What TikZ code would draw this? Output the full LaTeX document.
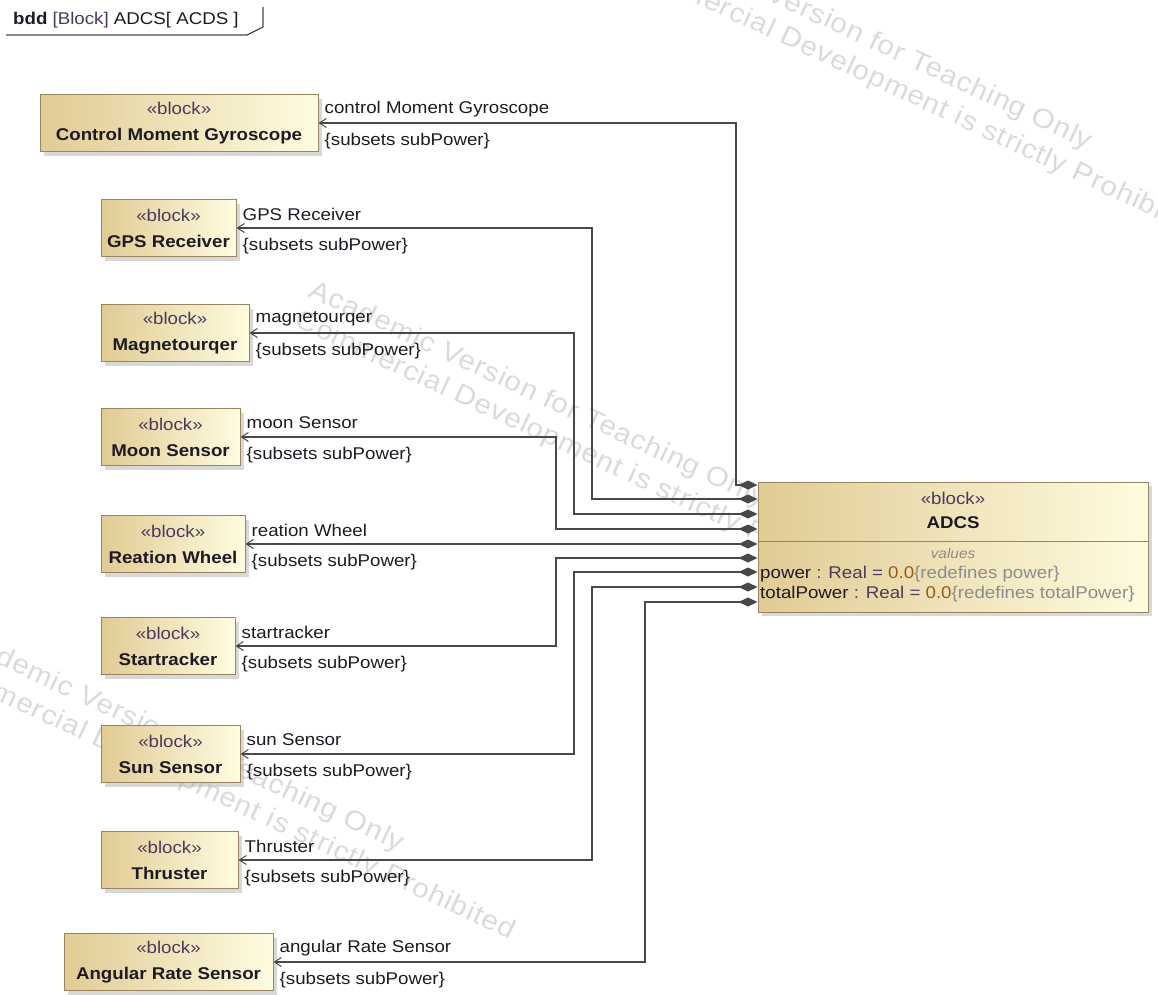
\documentclass[tikz,border=0pt]{standalone}
\usepackage{fontspec}
\setmainfont{Liberation Sans}[FakeStretch=1.1]
\usetikzlibrary{arrows.meta, shadows}
\definecolor{blktan}{HTML}{E0CB94}
\definecolor{blkcream}{HTML}{FFFCE0}
\definecolor{blkedge}{HTML}{9A8462}
\definecolor{lngray}{HTML}{484848}
\definecolor{sttext}{HTML}{4A3B5C}
\definecolor{txtdark}{HTML}{1E1A24}
\definecolor{wmark}{HTML}{DADADA}
\definecolor{valbrown}{HTML}{9A5B12}
\definecolor{redgray}{HTML}{8C8C8C}

\begin{document}
\begin{tikzpicture}[
  x=1pt, y=-1pt,
  blk/.style={
    draw=blkedge, line width=1pt, left color=blktan, right color=blkcream,
    drop shadow={shadow xshift=4pt, shadow yshift=-4pt, fill=black!30},
    minimum width=#1, minimum height=57pt, inner sep=0pt, align=center,
    font=\fontsize{17}{26}\selectfont, text=txtdark
  },
  comp/.style={
    draw=lngray, line width=1.4pt,
    {Diamond[length=19pt, width=9pt, fill=lngray]}-{Straight Barb[length=7pt, width=9pt, line width=1pt]}
  },
  lbl/.style={anchor=west, inner sep=1pt, font=\fontsize{17}{20}\selectfont, text=txtdark},
  wmk/.style={rotate=-25, anchor=north west, inner sep=0pt, align=left, text=wmark,
    font=\fontsize{27}{33}\selectfont\addfontfeature{LetterSpace=3}},
]
\useasboundingbox (0,0) rectangle (1158,994);

% Watermark
\begin{scope}
\clip (0,0) rectangle (1158,994);
\foreach \cx/\cy [count=\i] in {642/-80, 316/278, -46/622}
  \node[wmk] (wm-\i) at (\cx,\cy)
    {Academic Version for Teaching Only\\Commercial Development is strictly Prohibited};
\end{scope}

% Frame tab
\node[lbl] (title) at (12,20)
  {\textbf{bdd} \textcolor{sttext}{[Block]} ADCS[ ACDS ]};
\draw[lngray, line width=1.2pt] (6,35) -- (247,35) -- (263,27) -- (263,7);

% =============================================
% Part blocks
% =============================================
\node[blk=278] (cmg)  at (179,123)   {\textcolor{sttext}{«block»}\\\textbf{Control Moment Gyroscope}};
\node[blk=135] (gps)  at (168.5,228) {\textcolor{sttext}{«block»}\\\textbf{GPS Receiver}};
\node[blk=148] (mag)  at (175,333)   {\textcolor{sttext}{«block»}\\\textbf{Magnetourqer}};
\node[blk=139] (moon) at (170.5,437) {\textcolor{sttext}{«block»}\\\textbf{Moon Sensor}};
\node[blk=144] (rw)   at (173,544)   {\textcolor{sttext}{«block»}\\\textbf{Reation Wheel}};
\node[blk=134] (star) at (168,646)   {\textcolor{sttext}{«block»}\\\textbf{Startracker}};
\node[blk=139] (sun)  at (170.5,754) {\textcolor{sttext}{«block»}\\\textbf{Sun Sensor}};
\node[blk=137] (thr)  at (169.5,860) {\textcolor{sttext}{«block»}\\\textbf{Thruster}};
\node[blk=209] (ars)  at (168.5,962) {\textcolor{sttext}{«block»}\\\textbf{Angular Rate Sensor}};

% =============================================
% ADCS block
% =============================================
\node[blk=390, minimum height=130pt] (adcs) at (953,547) {};
\node[text=sttext, font=\fontsize{17}{20}\selectfont] (adcs-st) at (953,498) {«block»};
\node[text=txtdark, font=\fontsize{17}{20}\selectfont\bfseries] (adcs-name) at (953,523) {ADCS};
\draw[blkedge, line width=1pt] (adcs.west |- 0,541) -- (adcs.east |- 0,541);
\node[text=redgray, font=\fontsize{14}{16}\selectfont\itshape] (adcs-vals) at (953,553) {values};
\node[lbl] (adcs-pwr) at (759,574)
  {power \textcolor{sttext}{: Real =} \textcolor{valbrown}{0.0}\textcolor{redgray}{\{redefines power\}}};
\node[lbl] (adcs-tot) at (759,594)
  {totalPower \textcolor{sttext}{: Real =} \textcolor{valbrown}{0.0}\textcolor{redgray}{\{redefines totalPower\}}};

% =============================================
% Part associations
% =============================================
\foreach \n/\y/\x/\r in {cmg/485/736/control Moment Gyroscope, gps/499/592/GPS Receiver,
    mag/514/574/magnetourqer, moon/529/556/moon Sensor, rw/544/556/reation Wheel,
    star/558/556/startracker, sun/572/574/sun Sensor, thr/587/592/Thruster,
    ars/602/645/angular Rate Sensor} {
  \draw[comp] (adcs.west |- 0,\y) -- (\x,\y) |- (\n.east);
  \node[lbl] (\n-role) at ([shift={(5,-14)}]\n.east) {\r};
  \node[lbl] (\n-subs) at ([shift={(5,18)}]\n.east) {\{subsets subPower\}};
}

\end{tikzpicture}
\end{document}
